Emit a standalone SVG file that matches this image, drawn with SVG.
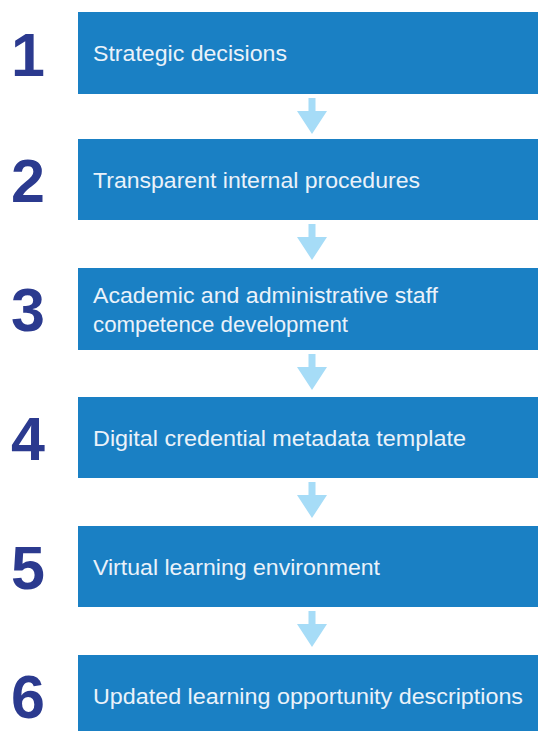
<svg xmlns="http://www.w3.org/2000/svg" width="538" height="731" viewBox="0 0 538 731">
<defs>
<style>
.box{fill:#1a80c4}
.lbl{font-family:"Liberation Sans",Arial,sans-serif;font-size:22px;fill:#eaf2fa}
.num{font-family:"Liberation Sans",Arial,sans-serif;font-size:61px;font-weight:bold;fill:#2b3a8f;text-anchor:middle}
.arr{fill:#a6dcf7}
</style>
<path id="arrow" d="M-3.5,0 H3.5 V13 H15 L0,36 L-15,13 H-3.5 Z"/>
</defs>
<rect width="538" height="731" fill="#ffffff"/>
<g id="node1">
<rect class="box" x="78" y="12" width="460" height="82"/>
<text class="num" x="28" y="76">1</text>
<text class="lbl" x="93" y="61" textLength="194" lengthAdjust="spacingAndGlyphs">Strategic decisions</text>
</g>
<g id="node2">
<rect class="box" x="78" y="139" width="460" height="81"/>
<text class="num" x="28" y="202">2</text>
<text class="lbl" x="93" y="188" textLength="327" lengthAdjust="spacingAndGlyphs">Transparent internal procedures</text>
</g>
<g id="node3">
<rect class="box" x="78" y="268" width="460" height="82"/>
<text class="num" x="28" y="331">3</text>
<text class="lbl" x="93" y="303" textLength="345" lengthAdjust="spacingAndGlyphs">Academic and administrative staff</text>
<text class="lbl" x="93" y="332" textLength="255" lengthAdjust="spacingAndGlyphs">competence development</text>
</g>
<g id="node4">
<rect class="box" x="78" y="397" width="460" height="81"/>
<text class="num" x="28" y="460">4</text>
<text class="lbl" x="93" y="446" textLength="373" lengthAdjust="spacingAndGlyphs">Digital credential metadata template</text>
</g>
<g id="node5">
<rect class="box" x="78" y="526" width="460" height="81"/>
<text class="num" x="28" y="589">5</text>
<text class="lbl" x="93" y="575" textLength="287" lengthAdjust="spacingAndGlyphs">Virtual learning environment</text>
</g>
<g id="node6">
<rect class="box" x="78" y="655" width="460" height="76"/>
<text class="num" x="28" y="718">6</text>
<text class="lbl" x="93" y="704" textLength="430" lengthAdjust="spacingAndGlyphs">Updated learning opportunity descriptions</text>
</g>
<g id="connectors" class="arr">
<use href="#arrow" x="312" y="98"/>
<use href="#arrow" x="312" y="224"/>
<use href="#arrow" x="312" y="354"/>
<use href="#arrow" x="312" y="482"/>
<use href="#arrow" x="312" y="611"/>
</g>
</svg>
